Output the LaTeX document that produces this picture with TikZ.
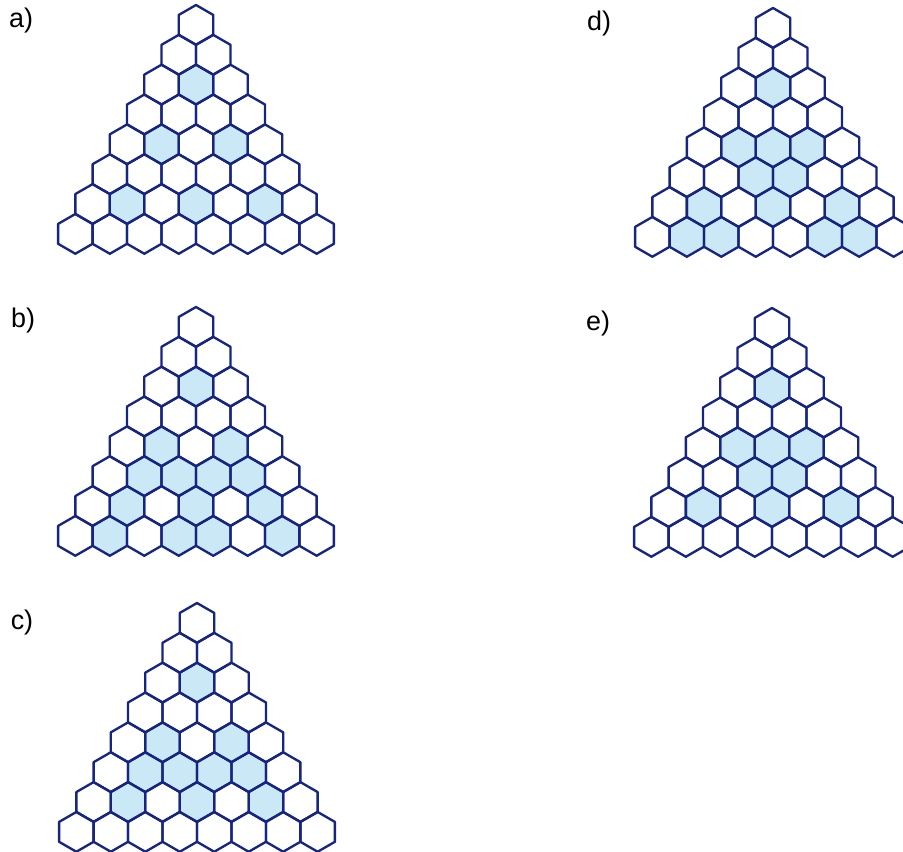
\documentclass[tikz,border=0pt]{standalone}
\usepackage{fontspec}
\setmainfont{Liberation Sans}
\definecolor{hexblue}{RGB}{22,36,130}
\definecolor{hexfill}{RGB}{202,232,246}
\newcommand{\hs}{19.9}
\newcommand{\hw}{34.47}
\newcommand{\hexcell}{+(30:\hs) -- +(90:\hs) -- +(150:\hs) -- +(210:\hs) -- +(270:\hs) -- +(330:\hs) -- cycle}
\newcommand{\hexgrid}[3]{%
  \foreach \rw/\cl in {#3}
    \fill[shaded] ({#1+(\cl-(\rw+1)/2)*\hw},{#2+\hs+(\rw-1)*1.5*\hs}) \hexcell;
  \foreach \rw in {1,...,8}
    \foreach \cl in {1,...,\rw}
      \draw[cell] ({#1+(\cl-(\rw+1)/2)*\hw},{#2+\hs+(\rw-1)*1.5*\hs}) \hexcell;
}

\begin{document}
\begin{tikzpicture}[
x=0.03cm, y=-0.03cm,
cell/.style={draw=hexblue, line width=2pt, line join=round},
shaded/.style={fill=hexfill},
tag/.style={font=\fontsize{23}{27}\selectfont, inner sep=0pt}
]
\clip (0,0) rectangle (903,852);
\fill[white] (0,0) rectangle (903,852);
\node[tag] (laba) at (21,21) {a)};
\node[tag] (labb) at (23,321) {b)};
\node[tag] (labc) at (22,623) {c)};
\node[tag] (labd) at (599,24) {d)};
\node[tag] (labe) at (598,324) {e)};
\hexgrid{196}{5}{3/2,5/2,5/4,7/2,7/4,7/6}
\hexgrid{196}{307}{3/2,5/2,5/4,6/2,6/3,6/4,6/5,7/2,7/4,7/6,8/2,8/4,8/5,8/7}
\hexgrid{197}{603}{3/2,5/2,5/4,6/2,6/3,6/4,6/5,7/2,7/4,7/6}
\hexgrid{773}{8}{3/2,5/2,5/3,5/4,6/3,6/4,7/2,7/4,7/6,8/2,8/3,8/6,8/7}
\hexgrid{772}{308}{3/2,5/2,5/3,5/4,6/3,6/4,7/2,7/4,7/6}
\end{tikzpicture}
\end{document}
